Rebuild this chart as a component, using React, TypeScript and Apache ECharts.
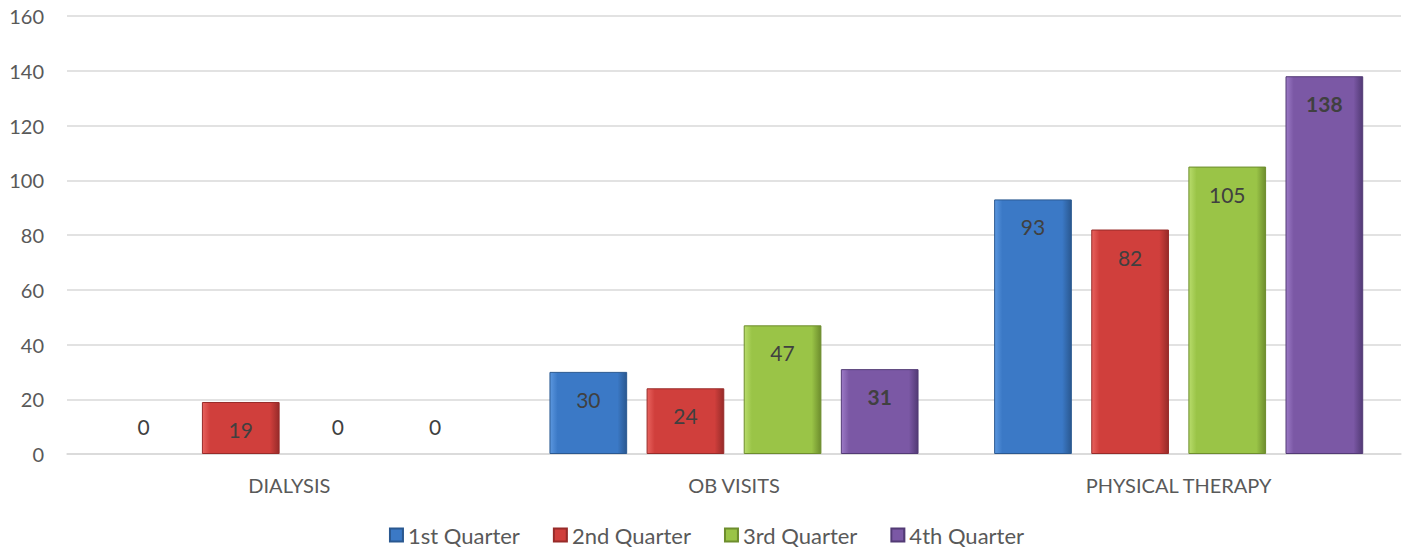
import React, { useEffect, useRef } from "react";
import * as echarts from "echarts";

const categories = ["DIALYSIS", "OB VISITS", "PHYSICAL THERAPY"];
const seriesNames = ["1st Quarter", "2nd Quarter", "3rd Quarter", "4th Quarter"];
const q1 = [0, 30, 93];
const q2 = [19, 24, 82];
const q3 = [0, 47, 105];
const q4 = [0, 31, 138];
const seriesValues = [q1, q2, q3, q4];

const palette = [
  { light: "#5b97df", main: "#3b79c6", dark: "#2a5890" },
  { light: "#e8625e", main: "#d03f3c", dark: "#972b29" },
  { light: "#b8dc6c", main: "#9ac447", dark: "#6d8d2d" },
  { light: "#9c7ac6", main: "#7b58a5", dark: "#523a75" },
];

const FONT = "Lato, 'Open Sans', sans-serif";

export default function App() {
  const ref = useRef<HTMLDivElement>(null);
  useEffect(() => {
    document.body.style.margin = "0";
    const chart = echarts.init(ref.current!, undefined, { renderer: "svg" });
    const series = seriesValues.map((vals, i) => ({
      name: seriesNames[i],
      type: "bar",
      barGap: "25%",
      barCategoryGap: "17%",
      itemStyle: {
        color: new echarts.graphic.LinearGradient(0, 0, 1, 0, [
          { offset: 0, color: palette[i].light },
          { offset: 0.1, color: palette[i].main },
          { offset: 0.88, color: palette[i].main },
          { offset: 1, color: palette[i].dark },
        ]),
        borderColor: palette[i].dark,
        borderWidth: 1,
      },
      data: vals.map((v) =>
        v === 0
          ? {
              value: v,
              itemStyle: { borderWidth: 0, color: "rgba(0,0,0,0)" },
              label: { position: "top", distance: 17, fontWeight: "normal" },
            }
          : { value: v }
      ),
      label: {
        show: true,
        position: "insideTop",
        distance: 17,
        fontSize: 21,
        fontFamily: FONT,
        color: "#404040",
        fontWeight: i === 3 ? "bold" : "normal",
      },
    }));
    chart.setOption({
      animation: false,
      color: palette.map((p) => p.main),
      grid: { left: 67, right: 12, top: 16, bottom: 100 },
      legend: {
        bottom: 3,
        left: "center",
        itemWidth: 13,
        itemHeight: 13,
        itemGap: 33,
        icon: "rect",
        textStyle: { fontSize: 22, color: "#595959", fontFamily: FONT },
        data: seriesNames,
      },
      xAxis: {
        type: "category",
        data: categories,
        axisLine: { lineStyle: { color: "#d9d9d9", width: 1.5 } },
        axisTick: { show: false },
        axisLabel: { fontSize: 20, color: "#595959", fontFamily: FONT, margin: 21 },
      },
      yAxis: {
        type: "value",
        min: 0,
        max: 160,
        interval: 20,
        axisLine: { show: false },
        axisTick: { show: false },
        splitLine: { lineStyle: { color: "#d9d9d9", width: 1.5 } },
        axisLabel: { fontSize: 20, color: "#595959", fontFamily: FONT, margin: 23 },
      },
      series,
    });
    return () => chart.dispose();
  }, []);
  return <div ref={ref} style={{ width: 1413, height: 554 }} />;
}
